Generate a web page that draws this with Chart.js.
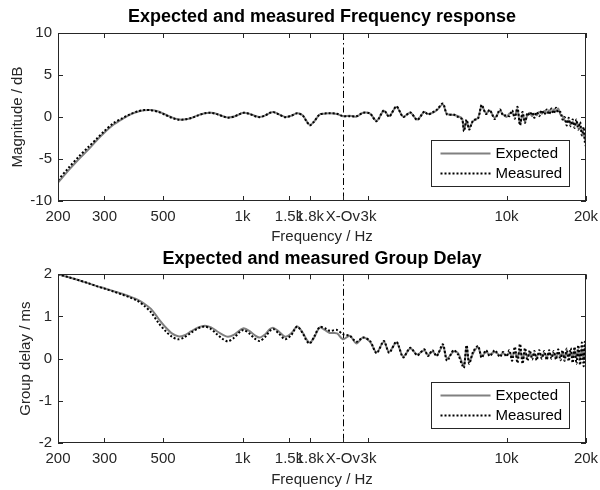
<!DOCTYPE html>
<html>
<head>
<meta charset="utf-8">
<script src="https://cdn.jsdelivr.net/npm/chart.js@4"></script>
<style>
  body { margin: 0; background: #fff; }
  canvas { display: block; }
</style>
</head>
<body>
<canvas id="freqChart" width="600" height="245"></canvas>
<canvas id="gdChart" width="600" height="245"></canvas>
<script>
// frequency points (Hz)
const freqHz = [
    200, 220, 240, 260, 280, 300, 325, 350, 375, 400,
    425, 450, 480, 510, 540, 570, 600, 640, 680, 720,
    760, 800, 840, 880, 930, 980, 1010, 1060, 1110, 1160,
    1220, 1270, 1310, 1370, 1450, 1530, 1610, 1690, 1750, 1800,
    1860, 1960, 2050, 2140, 2280, 2400, 2550, 2700, 2860, 3040,
    3220, 3430, 3590, 3830, 4060, 4320, 4590, 4880, 5040, 5240,
    5440, 5740, 5950, 6300, 6550, 6790, 6900, 7060, 7220, 7470,
    7800, 8050, 8360, 8640, 9030, 9440, 9700, 10000, 10250, 10500,
    10750, 11000, 11250, 11500, 11750, 12000, 12250, 12500, 12750, 13000,
    13300, 13600, 13900, 14200, 14500, 14800, 15100, 15400, 15700, 16000,
    16300, 16600, 16900, 17200, 17500, 17800, 18100, 18400, 18700, 19000,
    19300, 19600, 19800, 20000
];

// magnitude (dB)
const magExpected = [
    -7.8, -6.3, -5.0, -3.9, -2.8, -1.85, -0.9, -0.25, 0.28, 0.62,
    0.8, 0.82, 0.65, 0.3, -0.05, -0.28, -0.3, -0.12, 0.22, 0.45,
    0.5, 0.36, 0.12, -0.05, 0.05, 0.38, 0.5, 0.4, 0.15, 0.0,
    0.2, 0.5, 0.6, 0.35, 0.0, 0.15, 0.45, 0.2, -0.5, -0.95,
    -0.6, 0.3, 0.4, 0.45, 0.35, 0.1, 0.15, 0.05, 0.5, 0.4,
    -0.45, 0.75, 0.1, 1.2, 0.05, 0.5, -0.3, 0.6, 0.35, 0.5,
    0.8, 1.5, 0.35, 0.25, 0.1, -0.2, -1.5, -0.5, -1.3, -0.5,
    -0.1, 1.3, 0.45, 0.75, -0.1, 0.75, 0.3, 0.0, 0.4, 0.5,
    0.2, 0.9, -0.8, 0.3, -0.5, 0.2, 0.5, 0.1, 0.4, 0.2,
    0.6, 0.4, 0.7, 0.5, 0.8, 0.6, 0.9, 0.7, 1.0, 0.3,
    0.1, -0.4, -0.6, -0.4, -0.8, -0.6, -0.9, -0.7, -1.0, -1.2,
    -1.6, -2.0, -2.6, -3.2
];
const magMeasured = [
    -7.5, -6.0, -4.7, -3.6, -2.6, -1.65, -0.72, -0.15, 0.33, 0.66,
    0.82, 0.8, 0.6, 0.25, -0.1, -0.32, -0.3, -0.12, 0.2, 0.44,
    0.5, 0.34, 0.1, -0.08, 0.05, 0.38, 0.5, 0.38, 0.12, -0.02,
    0.2, 0.5, 0.58, 0.32, -0.02, 0.15, 0.45, 0.18, -0.55, -1.0,
    -0.6, 0.3, 0.42, 0.45, 0.38, 0.12, 0.1, 0.08, 0.5, 0.42,
    -0.5, 0.8, 0.05, 1.25, 0.0, 0.55, -0.35, 0.65, 0.3, 0.55,
    0.85, 1.6, 0.3, 0.3, 0.0, -0.3, -1.7, -0.3, -1.5, -0.4,
    -0.2, 1.45, 0.35, 0.85, -0.25, 0.9, 0.2, 0.2, 0.1, 0.8,
    -0.2, 1.2, -1.0, 0.6, -0.7, 0.5, 0.2, 0.6, -0.1, 0.6,
    0.1, 0.8, 0.3, 0.9, 0.3, 1.0, 0.4, 1.1, 0.5, 0.6,
    -0.3, 0.0, -1.0, -0.1, -1.1, -0.3, -1.3, -0.3, -1.5, -0.6,
    -2.2, -1.2, -3.0, -3.5
];

// group delay (ms)
const gdExpected = [
    2.0, 1.93, 1.86, 1.79, 1.72, 1.67, 1.6, 1.54, 1.47, 1.4,
    1.3, 1.18, 0.95, 0.75, 0.6, 0.53, 0.55, 0.65, 0.74, 0.78,
    0.74, 0.65, 0.57, 0.52, 0.57, 0.68, 0.72, 0.66, 0.56, 0.5,
    0.58, 0.7, 0.73, 0.65, 0.52, 0.6, 0.76, 0.62, 0.45, 0.38,
    0.48, 0.74, 0.68, 0.61, 0.6, 0.46, 0.54, 0.36, 0.5, 0.4,
    0.15, 0.4, 0.16, 0.38, 0.05, 0.24, 0.1, 0.2, 0.08, 0.17,
    0.08, 0.3, 0.0, 0.17, 0.13, -0.1, -0.17, 0.28, -0.08, 0.13,
    0.27, 0.06, 0.16, 0.1, 0.16, 0.08, 0.13, 0.08, 0.14, 0.05,
    0.16, 0.02, 0.2, 0.0, 0.15, 0.05, 0.12, 0.06, 0.12, 0.04,
    0.13, 0.06, 0.12, 0.04, 0.14, 0.06, 0.12, 0.04, 0.14, 0.06,
    0.14, 0.03, 0.15, 0.05, 0.16, 0.03, 0.18, 0.02, 0.2, 0.0,
    0.22, -0.02, 0.25, 0.05
];
const gdMeasured = [
    2.0, 1.93, 1.86, 1.79, 1.72, 1.66, 1.59, 1.52, 1.45, 1.37,
    1.25, 1.1, 0.85, 0.66, 0.52, 0.46, 0.5, 0.62, 0.72, 0.76,
    0.7, 0.58, 0.47, 0.41, 0.5, 0.64, 0.68, 0.6, 0.48, 0.42,
    0.52, 0.66, 0.7, 0.6, 0.46, 0.56, 0.76, 0.6, 0.42, 0.36,
    0.5, 0.75, 0.72, 0.66, 0.68, 0.58, 0.54, 0.4, 0.5, 0.42,
    0.13, 0.42, 0.14, 0.4, 0.03, 0.26, 0.08, 0.22, 0.06, 0.2,
    0.06, 0.34, -0.05, 0.2, 0.1, -0.15, -0.22, 0.32, -0.12, 0.16,
    0.3, 0.02, 0.2, 0.06, 0.2, 0.04, 0.16, 0.05, 0.2, -0.05,
    0.28, -0.1, 0.35, -0.12, 0.25, -0.05, 0.2, -0.02, 0.18, -0.04,
    0.2, 0.0, 0.18, -0.03, 0.2, 0.0, 0.18, -0.02, 0.22, -0.04,
    0.2, -0.05, 0.24, -0.06, 0.25, -0.1, 0.28, -0.12, 0.32, -0.15,
    0.38, -0.18, 0.4, -0.1
];

const xTickValues = [200, 300, 500, 1000, 1500, 1800, 2400, 3000, 10000, 20000];
const xTickLabels = ['200', '300', '500', '1k', '1.5k', '1.8k', 'X-Ov', '3k', '10k', '20k'];
const crossoverHz = 2400;
const seriesNames = ['Expected', 'Measured'];

const FONT = "'Liberation Sans', Arial, Helvetica, sans-serif";
const AXIS_COLOR = '#262626';

// MATLAB style box, inward ticks, crossover line and legend
const matlabAxes = {
    id: 'matlabAxes',
    beforeDatasetsDraw(chart) {
        const { ctx, chartArea: a, scales: { x } } = chart;
        const px = Math.round(x.getPixelForValue(crossoverHz)) + 0.5;
        ctx.save();
        ctx.strokeStyle = '#000';
        ctx.lineWidth = 1;
        ctx.setLineDash([7, 3, 1.5, 3]);
        ctx.beginPath();
        ctx.moveTo(px, a.top);
        ctx.lineTo(px, a.bottom);
        ctx.stroke();
        ctx.restore();
    },
    afterDatasetsDraw(chart) {
        const { ctx, chartArea: a, scales: { x, y } } = chart;
        ctx.save();
        ctx.strokeStyle = AXIS_COLOR;
        ctx.lineWidth = 1;
        ctx.strokeRect(Math.round(a.left) + 0.5, Math.round(a.top) + 0.5,
            Math.round(a.right - a.left) - 1, Math.round(a.bottom - a.top) - 1);
        const tl = 5;
        ctx.beginPath();
        xTickValues.forEach(v => {
            const px = Math.round(x.getPixelForValue(v)) + 0.5;
            ctx.moveTo(px, a.bottom); ctx.lineTo(px, a.bottom - tl);
            ctx.moveTo(px, a.top); ctx.lineTo(px, a.top + tl);
        });
        y.ticks.forEach(t => {
            const py = Math.round(y.getPixelForValue(t.value)) + 0.5;
            ctx.moveTo(a.left, py); ctx.lineTo(a.left + tl, py);
            ctx.moveTo(a.right, py); ctx.lineTo(a.right - tl, py);
        });
        ctx.stroke();

        // legend
        const bw = 138, bh = 46;
        const bx = Math.round(a.right - 17 - bw) + 0.5;
        const by = Math.round(a.bottom - 15 - bh) + 0.5;
        ctx.fillStyle = '#fff';
        ctx.fillRect(bx, by, bw, bh);
        ctx.strokeStyle = AXIS_COLOR;
        ctx.strokeRect(bx, by, bw, bh);
        ctx.font = '15px ' + FONT;
        ctx.textBaseline = 'middle';
        chart.data.datasets.forEach((ds, i) => {
            const ry = by + 13 + i * 20;
            ctx.save();
            ctx.strokeStyle = ds.borderColor;
            ctx.lineWidth = ds.borderWidth;
            ctx.setLineDash(ds.borderDash || []);
            ctx.beginPath();
            ctx.moveTo(bx + 9, ry);
            ctx.lineTo(bx + 59, ry);
            ctx.stroke();
            ctx.restore();
            ctx.fillStyle = '#000';
            ctx.fillText(ds.label, bx + 64, ry);
        });
        ctx.restore();
    }
};

function makeChart(canvasId, cfg) {
    const ctx = document.getElementById(canvasId);
    return new Chart(ctx, {
        type: 'line',
        data: {
            datasets: [{
                label: seriesNames[0],
                data: freqHz.map((f, i) => ({ x: f, y: cfg.expected[i] })),
                borderColor: '#808080',
                borderWidth: 2,
                order: 1
            }, {
                label: seriesNames[1],
                data: freqHz.map((f, i) => ({ x: f, y: cfg.measured[i] })),
                borderColor: '#000',
                borderWidth: 2,
                borderDash: [2, 2],
                order: 0
            }]
        },
        options: {
            responsive: false,
            maintainAspectRatio: false,
            animation: false,
            events: [],
            elements: {
                point: { radius: 0 },
                line: { tension: 0.3 }
            },
            layout: {
                padding: { left: 0, right: 14, top: 0, bottom: 0 }
            },
            scales: {
                x: {
                    type: 'logarithmic',
                    min: 200,
                    max: 20000,
                    grid: { display: false, drawTicks: false },
                    border: { display: false },
                    afterBuildTicks: scale => {
                        scale.ticks = xTickValues.map(v => ({ value: v }));
                    },
                    afterFit: scale => {
                        scale.height = cfg.xAxisHeight;
                        scale.paddingLeft = 0;
                        scale.paddingRight = 0;
                    },
                    ticks: {
                        autoSkip: false,
                        maxRotation: 0,
                        minRotation: 0,
                        padding: 7,
                        color: AXIS_COLOR,
                        font: { family: FONT, size: 15 },
                        callback: value => {
                            const i = xTickValues.indexOf(value);
                            return i >= 0 ? xTickLabels[i] : '';
                        }
                    },
                    title: {
                        display: true,
                        text: 'Frequency / Hz',
                        color: AXIS_COLOR,
                        font: { family: FONT, size: 15, lineHeight: 1 },
                        padding: { top: 0, bottom: cfg.xTitlePad }
                    }
                },
                y: {
                    min: cfg.yMin,
                    max: cfg.yMax,
                    grid: { display: false, drawTicks: false },
                    border: { display: false },
                    afterFit: scale => { scale.width = 58; },
                    ticks: {
                        stepSize: cfg.yStep,
                        padding: 6,
                        color: AXIS_COLOR,
                        font: { family: FONT, size: 15 }
                    },
                    title: {
                        display: true,
                        text: cfg.yTitle,
                        color: AXIS_COLOR,
                        font: { family: FONT, size: 15, lineHeight: 1 },
                        padding: { top: cfg.yTitlePad, bottom: 0 }
                    }
                }
            },
            plugins: {
                legend: { display: false },
                tooltip: { enabled: false },
                title: {
                    display: true,
                    fullSize: false,
                    text: cfg.title,
                    color: '#000',
                    font: { family: FONT, size: 18, weight: 'bold', lineHeight: 1.2 },
                    padding: cfg.titlePad
                }
            }
        },
        plugins: [matlabAxes]
    });
}

document.addEventListener('DOMContentLoaded', function() {
    makeChart('freqChart', {
        expected: magExpected,
        measured: magMeasured,
        title: 'Expected and measured Frequency response',
        titlePad: { top: 6, bottom: 5.4 },
        yTitle: 'Magnitude / dB',
        yTitlePad: 10,
        yMin: -10, yMax: 10, yStep: 5,
        xAxisHeight: 44,
        xTitlePad: 0.5
    });

    makeChart('gdChart', {
        expected: gdExpected,
        measured: gdMeasured,
        title: 'Expected and measured Group Delay',
        titlePad: { top: 3, bottom: 4.7 },
        yTitle: 'Group delay / ms',
        yTitlePad: 18,
        yMin: -2, yMax: 2, yStep: 1,
        xAxisHeight: 47,
        xTitlePad: 2.5
    });
});
</script>
</body>
</html>
